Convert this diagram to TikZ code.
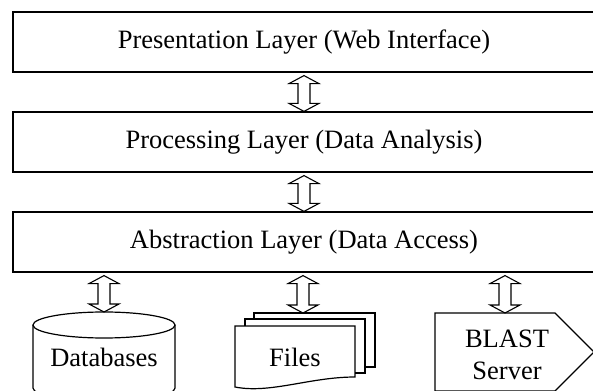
\documentclass[tikz,border=0pt]{standalone}
\usepackage{fontspec}
\setmainfont{Liberation Serif}
\usetikzlibrary{calc}

\tikzset{
  layer/.style={draw, line width=1.2pt, minimum width=582pt, minimum height=60pt, inner sep=0pt},
  store/.style={line width=1.2pt, line join=miter},
  linkarrow/.style={draw, line width=1.1pt, line join=miter}
}

% double block arrow, from below #1 down to #2 (x taken from #2)
\newcommand{\bidiarrow}[2]{%
  \draw[linkarrow] let \p1=(#1), \p2=(#2) in
    (\x2,\y1-3) -- (\x2+15,\y1-11) -- (\x2+6,\y1-11) -- (\x2+6,\y2+8)
    -- (\x2+15,\y2+8) -- (\x2,\y2) -- (\x2-15,\y2+8) -- (\x2-6,\y2+8)
    -- (\x2-6,\y1-11) -- (\x2-15,\y1-11) -- cycle;}

\begin{document}
\begin{tikzpicture}[x=1pt, y=1pt, font=\fontsize{26.5}{32}\selectfont]
    \useasboundingbox (0,0) rectangle (593,390);

    % Layers
    \node[layer] (pres) at (304,348) {Presentation Layer (Web Interface)};
    \node[layer] (proc) at (304,248) {Processing Layer (Data Analysis)};
    \node[layer] (abstr) at (304,148) {Abstraction Layer (Data Access)};

    % Databases (cylinder)
    \draw[store] (33,65) -- (33,2) arc[start angle=180, end angle=360, x radius=71, y radius=13] -- (175,65);
    \draw[store] (104,65) ellipse [x radius=71, y radius=13];
    \coordinate (dbtop) at (104,78);
    \node (db) at (104,33) {Databases};

    % Files (stack of sheets)
    \draw[store] (365,23) -- (375,23) -- (375,77) -- (254,77) -- (254,71);
    \draw[store] (355,17) -- (365,17) -- (365,71) -- (245,71) -- (245,64);
    \draw[store] (235,3) -- (235,64) -- (355,64) -- (355,13)
        .. controls (310,13) and (270,-4) .. cycle;
    \coordinate (filestop) at (303,77);
    \node (files) at (295,33) {Files};

    % BLAST server (signal shape)
    \draw[store] (435,-1) -- (435,77) -- (555,77) -- (594,38) -- (555,-1) -- cycle;
    \coordinate (blasttop) at (505,77);
    \node[align=center] (blast) at (507,35) {BLAST\\Server};

    % Arrows between layers and stores
    \bidiarrow{pres.south}{proc.north}
    \bidiarrow{proc.south}{abstr.north}
    \bidiarrow{abstr.south}{dbtop}
    \bidiarrow{abstr.south}{filestop}
    \bidiarrow{abstr.south}{blasttop}
\end{tikzpicture}
\end{document}
